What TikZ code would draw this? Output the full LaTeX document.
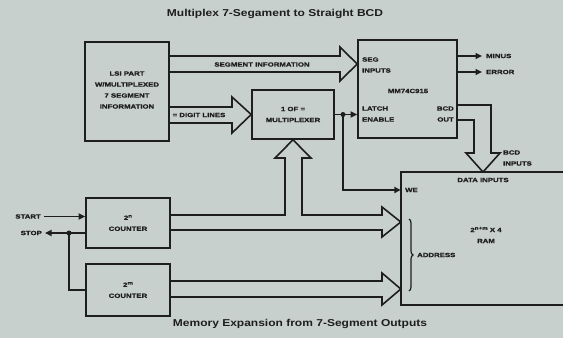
\documentclass[tikz,border=0pt]{standalone}
\usepackage{fontspec}
\setmainfont{Liberation Sans}
\newfontfamily\lblfont[FakeStretch=1.3,BoldFeatures={FakeBold=1.2}]{Liberation Sans}
\newfontfamily\ttlfont[FakeStretch=1.2]{Liberation Sans}
\usetikzlibrary{arrows.meta,decorations.pathreplacing}
\definecolor{paper}{RGB}{200,208,205}
\definecolor{ink}{RGB}{30,30,30}
\newcommand\smallbold{\lblfont\bfseries\fontsize{6}{11}\selectfont}
\newcommand\supx[1]{\raisebox{2.2pt}{\fontsize{4.8}{5}\selectfont #1}}
\begin{document}
\begin{tikzpicture}[x=1pt,y=-1pt,
  box/.style={draw=ink, line width=1.6pt, inner sep=0pt, align=center, text=ink, font=\smallbold},
  lbl/.style={font=\smallbold, text=ink, inner sep=0pt},
  wire/.style={draw=ink, line width=1.6pt},
  arr/.style={wire, -{Triangle[length=6.5pt,width=6pt]}},
  wide/.style={draw=ink, line width=1.6pt, line join=miter},
  dot/.style={circle, fill=ink, inner sep=0pt, minimum size=5pt},
  ttl/.style={font=\ttlfont\bfseries\fontsize{10}{12}\selectfont, text=ink, inner sep=0pt}]
\fill[paper] (0,0) rectangle (563,338);
\useasboundingbox (0,0) rectangle (563,338);

% titles
\node[ttl] (t1) at (275,14) {Multiplex 7-Segament to Straight BCD};
\node[ttl] (t2) at (300,324) {Memory Expansion from 7-Segment Outputs};

% boxes
\node[box, minimum width=84, minimum height=99] (lsi) at (127,91.5) {};
\node[lbl, align=center] (lsitxt) at (127,90) {LSI PART\\W/MULTIPLEXED\\7 SEGMENT\\INFORMATION};
\node[box, minimum width=82, minimum height=49] (mux) at (293,114.5) {1 OF =\\MULTIPLEXER};
\node[box, minimum width=99, minimum height=98] (mm) at (407.5,89) {};
\node[lbl] (mmname) at (408,91) {MM74C915};
\node[lbl, align=left, anchor=west] (seg) at (362,65) {SEG\\INPUTS};
\node[lbl, align=left, anchor=west] (latch) at (362,114) {LATCH\\ENABLE};
\node[lbl, align=right, anchor=east] (bcdout) at (454,114) {BCD\\OUT};
\node[box, minimum width=84, minimum height=50] (cn) at (128,223) {2\supx{n}\\COUNTER};
\node[box, minimum width=84, minimum height=52] (cm) at (128,290) {2\supx{m}\\COUNTER};
\node[inner sep=0pt, minimum width=162, minimum height=133] (ram) at (482,238.5) {};
\draw[wire] (ram.north east) -- (ram.north west) -- (ram.south west) -- (ram.south east);
\node[lbl, align=center] (ramtxt) at (486,235) {2\supx{n+m} X 4\\RAM};
\node[lbl] (datain) at (483,180) {DATA INPUTS};
\node[lbl, anchor=west] (we) at (405,190) {WE};
\node[lbl, anchor=west] (addr) at (417,255) {ADDRESS};
\node[lbl, align=left, anchor=west] (bcdin) at (503,158) {BCD\\INPUTS};

% outputs
\node[lbl, anchor=west] (minus) at (486,56) {MINUS};
\node[lbl, anchor=west] (error) at (486,72) {ERROR};
\draw[arr, shorten >=4pt] (mm.east |- minus.west) -- (minus.west);
\draw[arr, shorten >=4pt] (mm.east |- error.west) -- (error.west);

% wide arrows
\draw[wide] (lsi.east |- 0,56) -- (340,56) -- (340,47) -- (mm.west |- 0,64) -- (340,81) -- (340,72) -- (lsi.east |- 0,72);
\node[lbl] (seginfo) at (262,64.5) {SEGMENT INFORMATION};
\draw[wide] (lsi.east |- 0,107) -- (232,107) -- (232,97) -- (mux.west) -- (232,133) -- (232,123) -- (lsi.east |- 0,123);
\node[lbl] (digit) at (199,115) {= DIGIT LINES};
\draw[wide] (mm.east |- 0,105) -- (491,105) -- (491,153) -- (500,153) -- (483,172) -- (466,153) -- (474,153) -- (474,120) -- (mm.east |- 0,120);
\draw[wide] (cn.east |- 0,215) -- (285,215) -- (285,158) -- (275,158) -- (mux.south) -- (311,158) -- (302,158) -- (302,215) -- (382,215) -- (382,207) -- (ram.west |- 0,222) -- (382,237) -- (382,230) -- (cn.east |- 0,230);
\draw[wide] (cm.east |- 0,281) -- (382,281) -- (382,273) -- (ram.west |- 0,289) -- (382,305) -- (382,297) -- (cm.east |- 0,297);

% latch enable / WE
\coordinate (j1) at (343,114.5);
\draw[arr] (mux.east) -- (mm.west |- mux.east);
\draw[arr] (j1) |- (ram.west |- we.west);
\node[dot] at (j1) {};

% brace
\draw[wire, line width=1.2pt, decorate, decoration={brace, amplitude=4pt}] (409,219) -- (409,291);

% start / stop
\node[lbl, anchor=east] (start) at (41,216.5) {START};
\node[lbl, anchor=east] (stop) at (42,233) {STOP};
\draw[arr] (start.east) ++(3,0) -- (cn.west |- start.east);
\coordinate (j2) at (69,233);
\draw[arr] (cn.west |- stop.east) -- ([xshift=3pt]stop.east);
\draw[wire] (j2) |- (cm.west);
\node[dot] at (j2) {};
\end{tikzpicture}
\end{document}
